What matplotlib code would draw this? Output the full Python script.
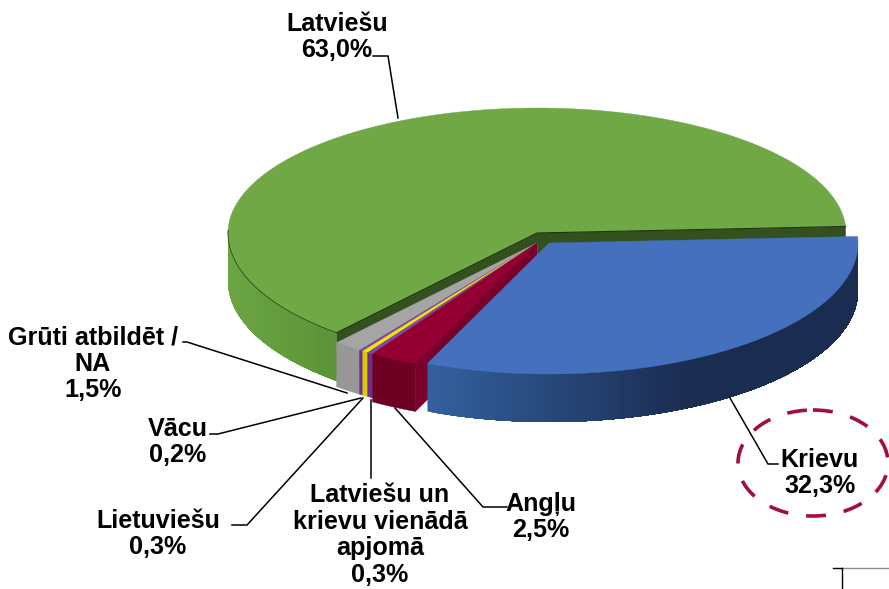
#!/usr/bin/env python3
"""Language share as a tilted, exploded 3D-looking pie, drawn in pixel coordinates."""

import matplotlib

matplotlib.use("Agg")
import matplotlib.pyplot as plt
import numpy as np
from matplotlib.patches import Ellipse, Polygon

plt.rcParams["font.family"] = ["Liberation Sans", "DejaVu Sans"]

# clockwise from the right edge of the pie
categories = [
    "Krievu",
    "Angļu",
    "Latviešu un\nkrievu vienādā\napjomā",
    "Lietuviešu",
    "Vācu",
    "Grūti atbildēt /\nNA",
    "Latviešu",
]
values = [32.3, 2.5, 0.3, 0.3, 0.2, 1.5, 63.0]
value_labels = ["32,3%", "2,5%", "0,3%", "0,3%", "0,2%", "1,5%", "63,0%"]

top_colors = ["#4470BE", "#940031", "#7A4BA6", "#F7E600", "#7A4BA6", "#A5A5A5", "#70A845"]
side_colors = ["#1A2C50", "#6E0024", "#6A2F90", "#D8CB00", "#6A2F90", "#979797", "#5B9237"]
cut_colors = ["#1A2C50", "#78002B", "#6A2F90", "#D8CB00", "#6A2F90", "#8A8A8A", "#33511F"]
offsets = [(12, 10), (0, 10), (0, 10), (0, 10), (0, 10), (0, 10), (0, 0)]
depths = [48, 48, 44, 44, 44, 44, 48]
draw_order = [6, 5, 4, 3, 2, 1, 0]
# lighter wall colour at the left, x where the fade starts, fade width
wall_fades = {0: ("#33609E", 430, 260), 6: ("#6BA543", 228, 110)}

CENTER = (537, 233)
RX = 309
RY_BACK = 125
RY_FRONT = 131
START_ANGLE = 3

# label centre, then the leader polyline
label_pos = [(820, 473), (541, 517), (380, 535), (158, 534), (178, 442), (93, 364), (337, 37)]
leaders = [
    [(730, 398), (768, 464), (778, 464)],
    [(395, 408), (483, 507), (507, 507)],
    [(371, 400), (371, 478)],
    [(363, 398), (247, 525), (232, 525)],
    [(361, 398), (218, 434), (210, 434)],
    [(347, 393), (187, 342), (183, 342)],
    [(373, 56), (388, 56), (398, 118)],
]


def project(angle, dx=0, dy=0):
    rad = np.radians(angle)
    s = np.sin(rad)
    x = CENTER[0] + dx + RX * np.cos(rad)
    y = CENTER[1] + dy - np.where(s > 0, RY_BACK, RY_FRONT) * s
    return np.column_stack([x, y])


def _mix(c0, c1, f):
    a = np.array(matplotlib.colors.to_rgb(c0))
    b = np.array(matplotlib.colors.to_rgb(c1))
    return tuple(a + (b - a) * f)


def _draw_wedge(ax, a_start, a_end, top, side, cut, off, depth, fade=None, outline=False):
    # a_start > a_end, going clockwise on screen
    dx, dy = off
    apex = np.array([CENTER[0] + dx, CENTER[1] + dy])
    down = np.array([0, depth])

    # cut faces that look towards the viewer
    for angle, normal in ((a_start, a_start + 90), (a_end, a_end - 90)):
        if np.sin(np.radians(normal)) < 0:
            p = project(angle, dx, dy)[0]
            ax.add_patch(Polygon([apex, p, p + down, apex + down], fc=cut, ec=cut, lw=0.3))

    # outer wall, front half only
    angles = np.linspace(a_start, a_end, 240)
    angles = angles[np.sin(np.radians(angles)) <= 0]
    if len(angles) > 1:
        rim = project(angles, dx, dy)
        if fade is None:
            ax.add_patch(Polygon(np.vstack([rim, rim[::-1] + down]), fc=side, ec=side, lw=0.3))
        else:
            # strips painted from one end, each reaching under the next so no seams show
            order = np.argsort(rim[:, 0])
            rim = rim[order]
            for k in range(len(rim) - 1):
                f = np.clip((rim[k, 0] - fade[1]) / fade[2], 0, 1)
                color = _mix(fade[0], side, f)
                part = rim[k:]
                ax.add_patch(Polygon(np.vstack([part, part[::-1] + down]), fc=color, ec="none"))

    rim = project(np.linspace(a_start, a_end, 300), dx, dy)
    ax.add_patch(Polygon(np.vstack([apex, rim]), fc=top, ec=top, lw=0.3))
    if outline:
        ax.plot([rim[0, 0], apex[0], rim[-1, 0]], [rim[0, 1], apex[1], rim[-1, 1]],
                color="#1F3312", lw=0.8)
        front = rim[np.sin(np.radians(np.linspace(a_start, a_end, 300))) <= 0.03]
        ax.plot(front[:, 0], front[:, 1], color="#2F4A1C", lw=0.6)


def main():
    fig = plt.figure(figsize=(8.89, 5.89), dpi=100)
    ax = fig.add_axes([0, 0, 1, 1])
    ax.set_xlim(0, 889)
    ax.set_ylim(589, 0)
    ax.axis("off")

    total = sum(values)
    edges = START_ANGLE - np.cumsum([0] + values) * 360 / total

    for i in draw_order:
        _draw_wedge(ax, edges[i], edges[i + 1], top_colors[i], side_colors[i], cut_colors[i],
                    offsets[i], depths[i], fade=wall_fades.get(i),
                    outline=categories[i] == "Latviešu")

    for line in leaders:
        xs, ys = zip(*line)
        ax.plot(xs, ys, color="black", lw=1.1, solid_joinstyle="miter")

    for name, val, pos in zip(categories, value_labels, label_pos):
        ax.text(pos[0], pos[1], f"{name}\n{val}", ha="center", va="center",
                fontsize=18.1, fontweight="bold", color="black", linespacing=1.13)

    ax.add_patch(Ellipse((813, 463), 150, 106, fill=False, ec="#A0103E", lw=2.6,
                         ls=(0, (5.5, 5))))

    # stub of a table frame at the lower right corner
    ax.plot([842, 889], [568, 568], color="#8C8C8C", lw=1.0)
    ax.plot([833, 842], [568, 568], color="black", lw=1.0)
    ax.plot([842, 842], [568, 589], color="black", lw=1.0)

    fig.savefig("out.png", dpi=100)
    plt.close(fig)


if __name__ == "__main__":
    main()
